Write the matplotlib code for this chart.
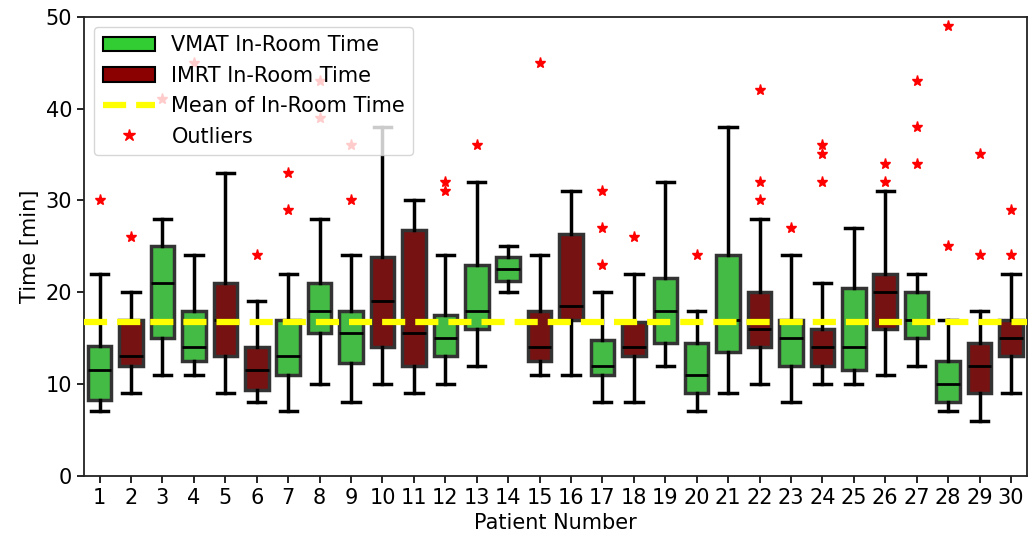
import numpy as np
import matplotlib.pyplot as plt
from matplotlib.patches import Patch
from matplotlib.lines import Line2D

plt.rcParams['font.family'] = ['DejaVu Sans']

# box statistics (minutes)
patients = list(range(1, 31))
plan = ['V', 'I', 'V', 'V', 'I', 'I', 'V', 'V', 'V', 'I',
        'I', 'V', 'V', 'V', 'I', 'I', 'V', 'I', 'V', 'V',
        'V', 'I', 'V', 'I', 'V', 'I', 'V', 'V', 'I', 'I']
whis_lo = [7, 9, 11, 11, 9, 8, 7, 10, 8, 10,
           9, 10, 12, 20, 11, 11, 8, 8, 12, 7,
           9, 10, 8, 10, 10, 11, 12, 7, 6, 9]
q1 = [8.3, 12, 15, 12.5, 13, 9.3, 11, 15.5, 12.3, 14,
      12, 13, 16, 21.2, 12.5, 17, 11, 13, 14.5, 9,
      13.5, 14, 12, 12, 11.5, 16, 15, 8, 9, 13]
med = [11.5, 13, 21, 14, 17, 11.5, 13, 18, 15.5, 19,
       15.5, 15, 18, 22.5, 14, 18.5, 12, 14, 18, 11,
       17, 16, 15, 14, 14, 20, 17, 10, 12, 15]
q3 = [14.1, 17, 25, 18, 21, 14, 17, 21, 18, 23.8,
      26.8, 17.5, 23, 23.8, 18, 26.3, 14.8, 16.8, 21.5, 14.5,
      24, 20, 17, 16, 20.5, 22, 20, 12.5, 14.5, 17]
whis_hi = [22, 20, 28, 24, 33, 19, 22, 28, 24, 38,
           30, 24, 32, 25, 24, 31, 20, 22, 32, 18,
           38, 28, 24, 21, 27, 31, 22, 17, 18, 22]
outliers = [[30], [26], [41], [45], [], [24], [33, 29], [43, 39], [30, 36], [],
            [], [32, 31], [36], [], [45], [], [31, 27, 23], [26], [], [24],
            [], [42, 32, 30], [27], [36, 35, 32], [], [34, 32], [43, 38, 34], [49, 25], [35, 24], [29, 24]]
mean_time = 16.8

stats = []
for i in range(len(patients)):
    stats.append({
        "whislo": whis_lo[i], "q1": q1[i], "med": med[i],
        "q3": q3[i], "whishi": whis_hi[i], "fliers": outliers[i],
    })

fig = plt.figure(figsize=(10.36, 5.4), dpi=100)
ax = fig.add_axes([0.081, 0.119, 0.910, 0.850])

bp = ax.bxp(
    stats, positions=patients, widths=0.75, capwidths=0.55,
    patch_artist=True, showfliers=True,
    boxprops=dict(edgecolor="#333333", linewidth=2.5),
    whiskerprops=dict(color="black", linewidth=2.5),
    capprops=dict(color="black", linewidth=2.5),
    medianprops=dict(color="black", linewidth=2),
    flierprops=dict(marker="*", markerfacecolor="red", markeredgecolor="red",
                    markersize=8, linestyle="none"),
)
for box, p in zip(bp["boxes"], plan):
    box.set_facecolor("#44bb44" if p == "V" else "#771212")

ax.axhline(mean_time, color="yellow", linestyle="--", linewidth=4.5, zorder=5)

ax.set_xlim(0.5, 30.5)
ax.set_ylim(0, 50)
ax.set_yticks([0, 10, 20, 30, 40, 50])
ax.set_xticks(patients)
ax.set_xticklabels([str(p) for p in patients])
ax.tick_params(labelsize=15, width=1.2, length=5)
for s in ax.spines.values():
    s.set_linewidth(1.3)
    s.set_color("#222222")
ax.set_xlabel("Patient Number", fontsize=15)
ax.set_ylabel("Time [min]", fontsize=15)

handles = [
    Patch(facecolor="limegreen", edgecolor="black", linewidth=1.5),
    Patch(facecolor="darkred", edgecolor="black", linewidth=1.5),
    Line2D([0], [0], color="yellow", linestyle="--", linewidth=4.5),
    Line2D([0], [0], marker="*", color="red", linestyle="none", markersize=9),
]
labels = ["VMAT In-Room Time", "IMRT In-Room Time", "Mean of In-Room Time", "Outliers"]
leg = ax.legend(handles, labels, loc="upper left", fontsize=15, handlelength=2.5)
leg.set_zorder(10)

fig.savefig("out.png", dpi=100)
